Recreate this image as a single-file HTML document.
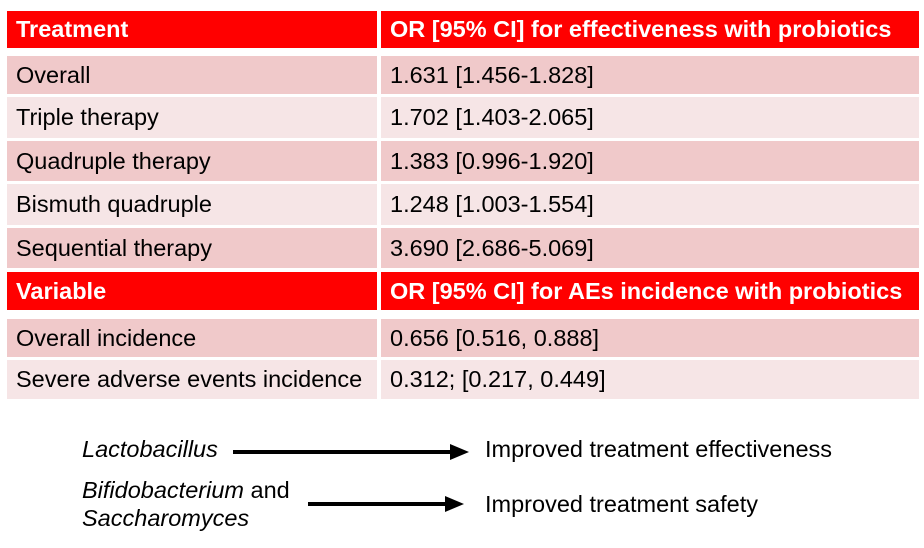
<!DOCTYPE html>
<html><head><style>
body{margin:0;width:924px;height:548px;background:#fff;position:relative;overflow:hidden;font-family:"Liberation Sans",Arial,sans-serif;}
.c{position:absolute;display:flex;align-items:center;font-size:23.5px;color:#000;box-sizing:border-box;padding-left:9px;white-space:nowrap}
.h{background:#ff0000;color:#fff;font-weight:bold}
.d{background:#f0c9ca}
.l{background:#f6e5e6}
.t{position:absolute;font-size:23.5px;white-space:nowrap;line-height:1}
</style></head><body>
<div class="c h" style="left:7px;top:11px;width:370px;height:37px">Treatment</div>
<div class="c h" style="left:381px;top:11px;width:538px;height:37px">OR [95% CI] for effectiveness with probiotics</div>

<div class="c d" style="left:7px;top:56px;width:370px;height:38px">Overall</div>
<div class="c d" style="left:381px;top:56px;width:538px;height:38px">1.631 [1.456-1.828]</div>
<div class="c l" style="left:7px;top:97px;width:370px;height:41px">Triple therapy</div>
<div class="c l" style="left:381px;top:97px;width:538px;height:41px">1.702 [1.403-2.065]</div>
<div class="c d" style="left:7px;top:141px;width:370px;height:40px">Quadruple therapy</div>
<div class="c d" style="left:381px;top:141px;width:538px;height:40px">1.383 [0.996-1.920]</div>
<div class="c l" style="left:7px;top:184px;width:370px;height:41px">Bismuth quadruple</div>
<div class="c l" style="left:381px;top:184px;width:538px;height:41px">1.248 [1.003-1.554]</div>
<div class="c d" style="left:7px;top:228px;width:370px;height:40px">Sequential therapy</div>
<div class="c d" style="left:381px;top:228px;width:538px;height:40px">3.690 [2.686-5.069]</div>

<div class="c h" style="left:7px;top:272px;width:370px;height:38px">Variable</div>
<div class="c h" style="left:381px;top:272px;width:538px;height:38px">OR [95% CI] for AEs incidence with probiotics</div>
<div class="c d" style="left:7px;top:319px;width:370px;height:38px">Overall incidence</div>
<div class="c d" style="left:381px;top:319px;width:538px;height:38px">0.656 [0.516, 0.888]</div>
<div class="c l" style="left:7px;top:360px;width:370px;height:39px">Severe adverse events incidence</div>
<div class="c l" style="left:381px;top:360px;width:538px;height:39px">0.312; [0.217, 0.449]</div>

<div class="t" style="left:82px;top:438px;font-style:italic">Lactobacillus</div>
<div class="t" style="left:485px;top:438px">Improved treatment effectiveness</div>
<div class="t" style="left:82px;top:479px"><i>Bifidobacterium</i> and</div>
<div class="t" style="left:82px;top:507px;font-style:italic">Saccharomyces</div>
<div class="t" style="left:485px;top:493px">Improved treatment safety</div>
<svg width="924" height="548" style="position:absolute;left:0;top:0">
<line x1="233" y1="452" x2="452" y2="452" stroke="#000" stroke-width="4"/>
<polygon points="450,444 469,452 450,460" fill="#000"/>
<line x1="308" y1="504" x2="447" y2="504" stroke="#000" stroke-width="4"/>
<polygon points="445,496 464,504 445,512" fill="#000"/>
</svg>
</body></html>
